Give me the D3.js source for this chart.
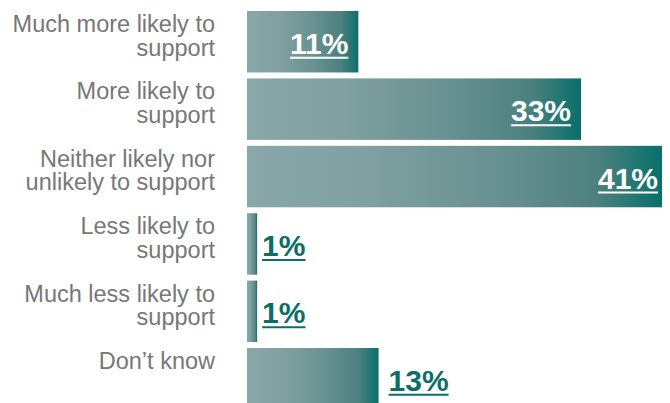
<!DOCTYPE html>
<html><head><meta charset="utf-8">
<script src="https://cdn.jsdelivr.net/npm/d3@7"></script>
<style>body{margin:0;background:#fff}svg{display:block}</style>
</head><body>
<svg id="c" width="670" height="403"></svg>
<script>
const categories = [
  ["Much more likely to","support"],
  ["More likely to","support"],
  ["Neither likely nor","unlikely to support"],
  ["Less likely to","support"],
  ["Much less likely to","support"],
  ["Don\u2019t know"]
];
const values = [11, 33, 41, 1, 1, 13];
const labels = ["11%","33%","41%","1%","1%","13%"];
const labelInside = [true, true, true, false, false, false];

const svg = d3.select("#c");
const x0 = 247;
const x = d3.scaleLinear().domain([0, 41]).range([x0, 662]);
const y = d3.scaleBand().domain(d3.range(categories.length)).range([11, 409.5]).paddingInner(0.088).paddingOuter(0);

const defs = svg.append("defs");
const g = defs.append("linearGradient").attr("id","grad").attr("x1","0").attr("x2","1").attr("y1","0").attr("y2","0");
[[0,"#8aa8a9"],[0.3,"#7f9fa0"],[0.6,"#699191"],[0.85,"#4b807e"],[1,"#07706a"]].forEach(s=>g.append("stop").attr("offset",s[0]).attr("stop-color",s[1]));

const font = "'Liberation Sans', Arial, Helvetica, sans-serif";

// bars
svg.selectAll("rect.bar").data(values).join("rect").attr("class","bar")
  .attr("x", x(0)).attr("y", (d,i)=>y(i))
  .attr("width", d=>x(d)-x(0)).attr("height", y.bandwidth())
  .attr("fill","url(#grad)");

// category labels
const cat = svg.selectAll("text.cat").data(categories).join("text").attr("class","cat")
  .attr("text-anchor","end").attr("font-family",font).attr("font-size",23.5).attr("fill","#777777");
cat.each(function(lines,i){
  const t = d3.select(this);
  lines.forEach((ln,j)=>t.append("tspan").attr("x",215).attr("y", y(i)+21+j*23.5).text(ln));
});

// value labels
values.forEach((v,i)=>{
  const inside = labelInside[i];
  const end = x(v);
  const base = y(i) + y.bandwidth()/2 + 12;
  const t = svg.append("text").attr("font-family",font).attr("font-size",30).attr("font-weight","bold")
    .attr("y", base).text(labels[i]);
  let tx;
  if (inside) {
    tx = end - (v >= 40 ? 4 : 10);
    t.attr("x", tx).attr("text-anchor","end").attr("fill","#ffffff");
  } else {
    tx = end + (v < 5 ? 5 : 10);
    t.attr("x", tx).attr("text-anchor","start").attr("fill","#0b6f68");
  }
  const w = t.node().getComputedTextLength();
  const lx1 = inside ? tx - w : tx;
  svg.append("line").attr("x1", lx1).attr("x2", lx1 + w)
    .attr("y1", base+4).attr("y2", base+4)
    .attr("stroke", inside ? "#ffffff" : "#0b6f68").attr("stroke-width", 2);
});
</script>
</body></html>
